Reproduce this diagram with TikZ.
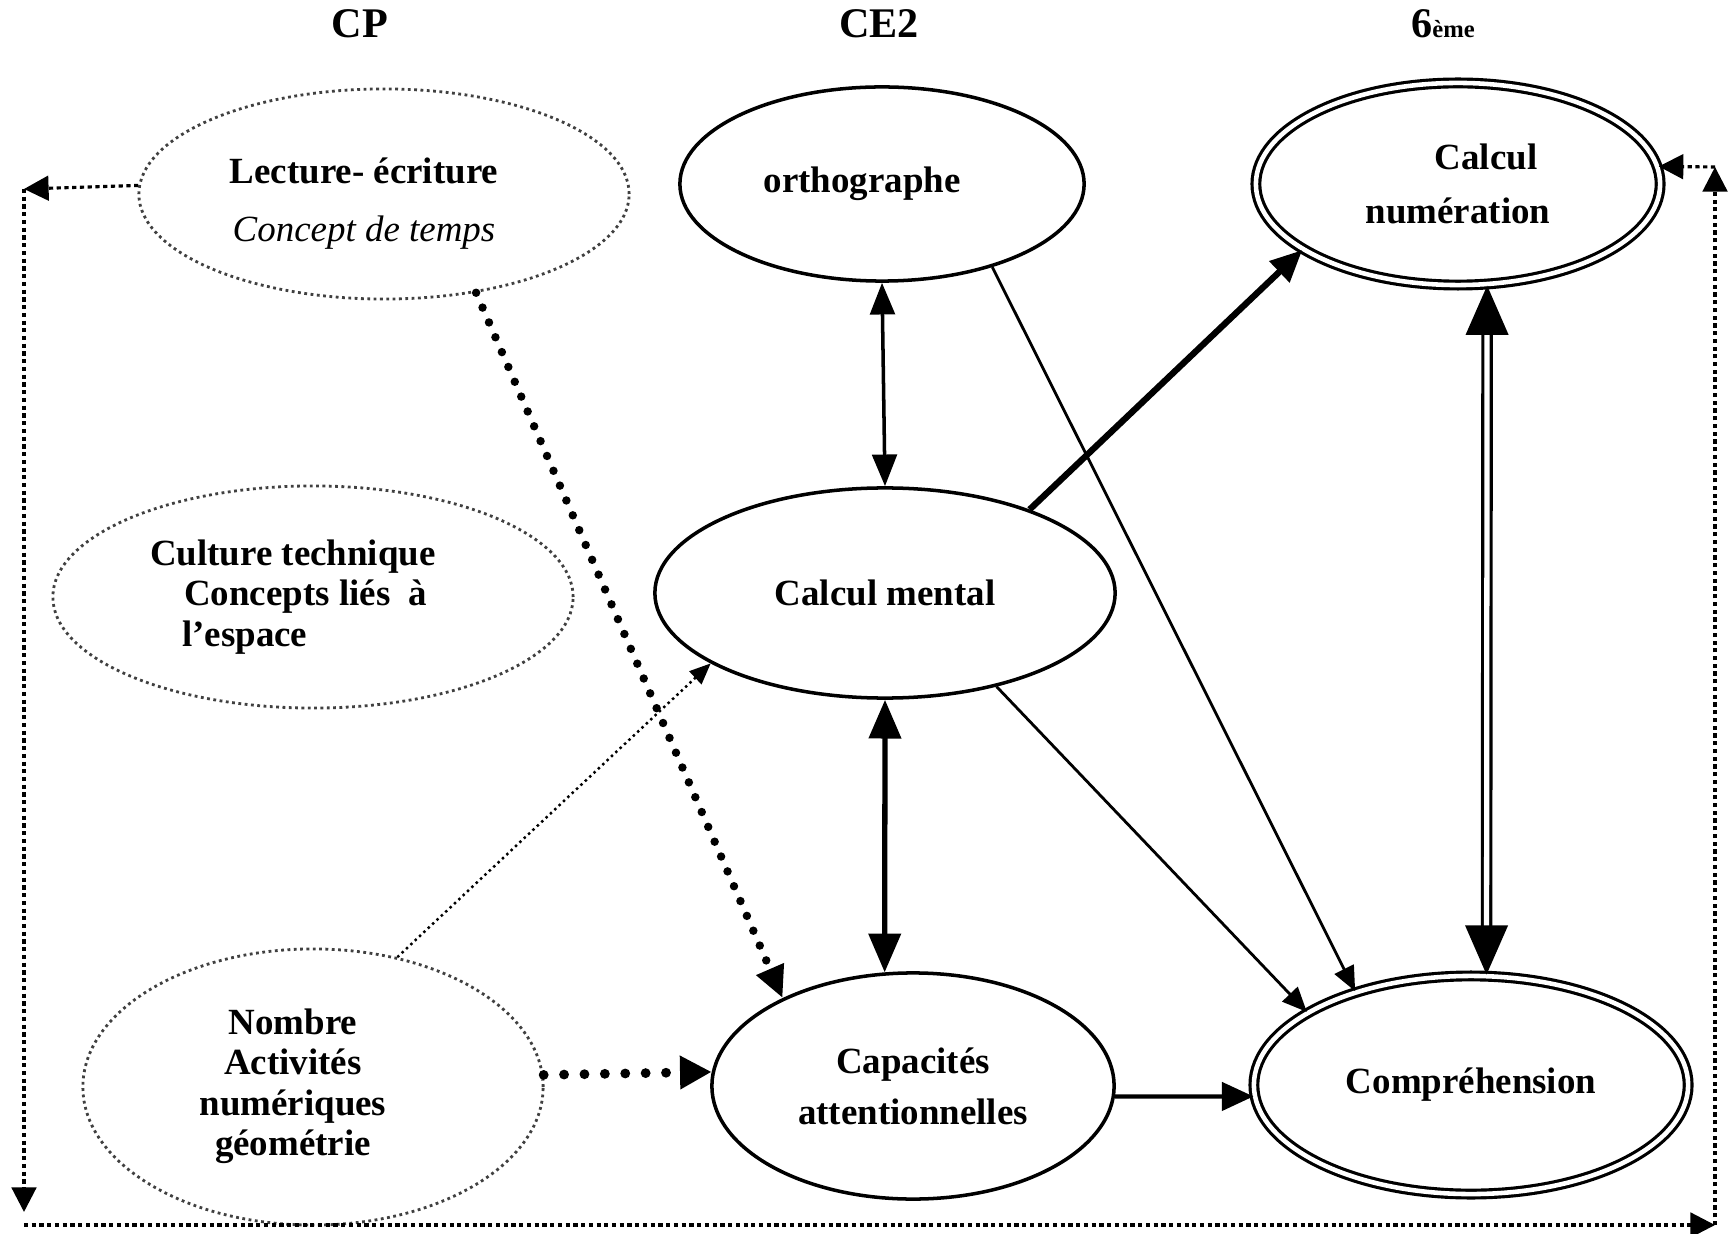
\documentclass[tikz,border=0pt]{standalone}
\usepackage{fontspec}
\setmainfont{Liberation Serif}
\usetikzlibrary{arrows.meta,shapes.geometric}

\begin{document}
\begin{tikzpicture}[x=0.01cm,y=-0.01cm,
  lab/.style={font=\fontsize{12}{14}\selectfont\bfseries},
  txt/.style={font=\fontsize{10.5}{11.5}\selectfont\bfseries,align=center},
  ell/.style={ellipse,draw,line width=1pt,inner sep=0pt,txt},
  pale/.style={ellipse,draw=black!75,densely dotted,line width=0.8pt,inner sep=0pt,txt},
  dbl/.style={ellipse,draw,double,line width=0.9pt,double distance=1.3pt,inner sep=0pt,txt},
  link/.style={line width=0.8pt,-{Triangle[length=7pt,width=6pt]}},
  both/.style={line width=1pt,{Triangle[length=9pt,width=7pt]}-{Triangle[length=9pt,width=7pt]}},
  heavy/.style={line width=1.5pt,{Triangle[length=11pt,width=9pt]}-{Triangle[length=11pt,width=9pt]}},
  fat/.style={line width=1.8pt,-{Triangle[length=9pt,width=8pt]}},
  push/.style={line width=1.2pt,-{Triangle[length=9pt,width=8pt]}},
  twin/.style={double,line width=0.9pt,double distance=1.5pt,{Triangle[length=14pt,width=12pt]}-{Triangle[length=14pt,width=12pt]}},
  bigdots/.style={line width=2.4pt,line cap=round,dash pattern=on 0pt off 4.6pt,-{Triangle[length=9pt,width=8pt]}},
  rounddots/.style={line width=2.8pt,line cap=round,dash pattern=on 0pt off 5.8pt,-{Triangle[length=9pt,width=9pt]}},
  finedots/.style={line width=0.7pt,densely dotted,-{Triangle[length=6pt,width=5pt]}},
  frame/.style={line width=0.9pt,dash pattern=on 1.2pt off 1pt,-{Triangle[length=7pt,width=7pt]}}]
  \useasboundingbox (0,0) rectangle (1734,1234);
  \node[lab] (tcp) at (360,24) {CP};
  \node[lab] (tce) at (879,24) {CE2};
  \node[lab] (tsix) at (1443,24) {6{\fontsize{7}{8}\selectfont ème}};
  \node[pale,minimum width=4.9cm,minimum height=2.1cm] (lect) at (384,194)
    {\rule{0pt}{13pt}Lecture- écriture\hspace*{4mm}\\[5pt]{\mdseries\itshape Concept de temps}\hspace*{4mm}};
  \node[ell,minimum width=4.04cm,minimum height=1.94cm] (orth) at (882,184) {orthographe\hspace*{4mm}};
  \node[dbl,minimum width=4.04cm,minimum height=2.02cm] (num) at (1458,184)
    {\hspace*{5.6mm}Calcul\\[4pt]numération};
  \node[pale,minimum width=5.2cm,minimum height=2.22cm,align=left] (cult) at (313,597)
    {Culture technique\hspace*{4mm}\\\hspace*{3.4mm}Concepts liés~ à\\\hspace*{3.2mm}l’espace};
  \node[ell,minimum width=4.6cm,minimum height=2.1cm] (ment) at (885,593) {Calcul mental};
  \node[pale,minimum width=4.6cm,minimum height=2.76cm] (nomb) at (313,1087)
    {\begin{tabular}{@{}c@{\hspace*{4mm}}}Nombre\\Activités\\numériques\\géométrie\end{tabular}};
  \node[ell,minimum width=4.02cm,minimum height=2.26cm] (cap) at (913,1086)
    {Capacités\\[3pt]attentionnelles};
  \node[dbl,minimum width=4.34cm,minimum height=2.18cm] (comp) at (1471,1085) {Compréhension};
  \coordinate (tl) at (24,189);
  \coordinate (bl) at (24,1225);
  \coordinate (br) at (1715,1225);
  \coordinate (tr) at (1715,167);
  \draw[bigdots] (lect.-47) -- (cap.146);
  \draw[both] (orth.south) -- (ment.north);
  \draw[link] (orth.-37) -- (comp.141);
  \draw[fat] (ment.30) -- (num.203);
  \draw[link] (ment.-40) -- (comp.156);
  \draw[heavy] (ment.south) -- (cap.104);
  \draw[twin] (num.-74) -- (comp.82);
  \draw[finedots] (nomb.57) -- (ment.202);
  \draw[rounddots] (nomb.3) -- (cap.176);
  \draw[push] (cap.-3) -- (comp.183);
  \draw[frame] (lect.178.5) -- (tl);
  \draw[frame,shorten >=0.13cm] (tl) -- (bl);
  \draw[frame] (bl) -- (br);
  \draw[frame] (br) -- (tr);
  \draw[frame] (tr) -- (num.5);
\end{tikzpicture}
\end{document}
